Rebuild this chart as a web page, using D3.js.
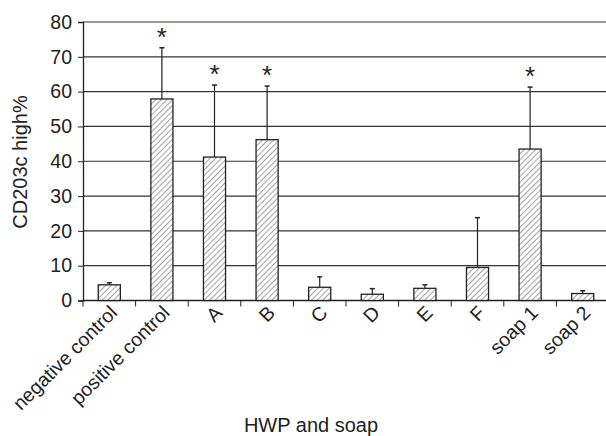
<!DOCTYPE html>
<html>
<head>
<meta charset="utf-8">
<script src="https://cdn.jsdelivr.net/npm/d3@7"></script>
<style>
body{margin:0;background:#fff;}
text{font-family:"Liberation Sans",Arial,sans-serif;fill:#222;}
</style>
</head>
<body>
<div class="graph"></div>
<script>
var categories=["negative control","positive control","A","B","C","D","E","F","soap 1","soap 2"];
var means=[4.5,57.9,41.2,46.2,3.8,1.8,3.5,9.5,43.5,2.0];
var errTops=[5.1,72.6,61.9,61.6,6.8,3.4,4.5,23.8,61.3,2.8];
var starred=["positive control","A","B","soap 1"];
var yTicks=[0,10,20,30,40,50,60,70,80];

const width=606;
const height=436;

var svg=d3.select(".graph")
    .append("svg")
    .attr("width",width)
    .attr("height",height);

// hatch pattern for the bars
var defs=svg.append("defs");
var pat=defs.append("pattern")
    .attr("id","hatch")
    .attr("patternUnits","userSpaceOnUse")
    .attr("width",4)
    .attr("height",4)
    .attr("patternTransform","rotate(45)");
pat.append("rect").attr("width",4).attr("height",4).attr("fill","#fff");
pat.append("line")
    .attr("x1",0).attr("y1",0).attr("x2",0).attr("y2",4)
    .attr("stroke","#555").attr("stroke-width",1.1);

var scaleX=d3.scaleBand()
    .domain(categories)
    .range([83,609])
    .paddingInner(0.58)
    .paddingOuter(0.29);

var scaleY=d3.scaleLinear()
    .domain([0,80])
    .range([300.5,22]);

// grid lines
svg.append("g")
    .selectAll("line")
    .data(yTicks.slice(1))
    .enter()
    .append("line")
    .attr("x1",83)
    .attr("x2",609)
    .attr("y1",d=>scaleY(d))
    .attr("y2",d=>scaleY(d))
    .attr("stroke","#333")
    .attr("stroke-width",1.2);

// y axis
var yAxis=d3.axisLeft(scaleY).tickValues(yTicks).tickSize(5).tickPadding(6);
var gy=svg.append("g")
    .attr("transform","translate(83,0)")
    .call(yAxis);
gy.select(".domain").attr("stroke","#222").attr("stroke-width",1.3);
gy.selectAll(".tick line").attr("stroke","#222");
gy.selectAll("text").style("font-size","19.5px").attr("fill","#222");

// x axis line + ticks at band boundaries
var step=scaleX.step();
var bounds=categories.map((c,i)=>83+i*step).concat([609]);
svg.append("line")
    .attr("x1",83).attr("x2",609)
    .attr("y1",scaleY(0)).attr("y2",scaleY(0))
    .attr("stroke","#222").attr("stroke-width",1.3);
svg.append("g")
    .selectAll("line")
    .data(bounds)
    .enter()
    .append("line")
    .attr("x1",d=>d).attr("x2",d=>d)
    .attr("y1",scaleY(0)).attr("y2",scaleY(0)+6)
    .attr("stroke","#222");

// error bars
var eb=svg.append("g");
categories.forEach(function(c,i){
    var cx=scaleX(c)+scaleX.bandwidth()/2;
    eb.append("line")
        .attr("x1",cx).attr("x2",cx)
        .attr("y1",scaleY(means[i])).attr("y2",scaleY(errTops[i]))
        .attr("stroke","#222").attr("stroke-width",1.2);
    eb.append("line")
        .attr("x1",cx-2.5).attr("x2",cx+2.5)
        .attr("y1",scaleY(errTops[i])).attr("y2",scaleY(errTops[i]))
        .attr("stroke","#222").attr("stroke-width",1.5);
});

// bars
svg.selectAll("rect.bar")
    .data(categories)
    .enter()
    .append("rect")
    .attr("class","bar")
    .attr("x",d=>scaleX(d))
    .attr("y",(d,i)=>scaleY(means[i]))
    .attr("width",scaleX.bandwidth())
    .attr("height",(d,i)=>scaleY(0)-scaleY(means[i]))
    .attr("fill","url(#hatch)")
    .attr("stroke","#222")
    .attr("stroke-width",1.3);

// asterisks
categories.forEach(function(c,i){
    if(starred.indexOf(c)<0) return;
    svg.append("text")
        .attr("x",scaleX(c)+scaleX.bandwidth()/2)
        .attr("y",scaleY(errTops[i])-2)
        .attr("text-anchor","middle")
        .style("font-size","26px")
        .text("*");
});

// category labels
svg.append("g")
    .selectAll("text")
    .data(categories)
    .enter()
    .append("text")
    .attr("text-anchor","end")
    .style("font-size","19.5px")
    .attr("transform",d=>"translate("+(scaleX(d)+scaleX.bandwidth()/2+9)+",314) rotate(-45)")
    .text(d=>d);

// axis titles
svg.append("text")
    .attr("x",311)
    .attr("y",432)
    .attr("text-anchor","middle")
    .style("font-size","20px")
    .text("HWP and soap");

svg.append("text")
    .attr("transform","translate(27,162) rotate(-90)")
    .attr("text-anchor","middle")
    .style("font-size","20px")
    .text("CD203c high%");
</script>
</body>
</html>
